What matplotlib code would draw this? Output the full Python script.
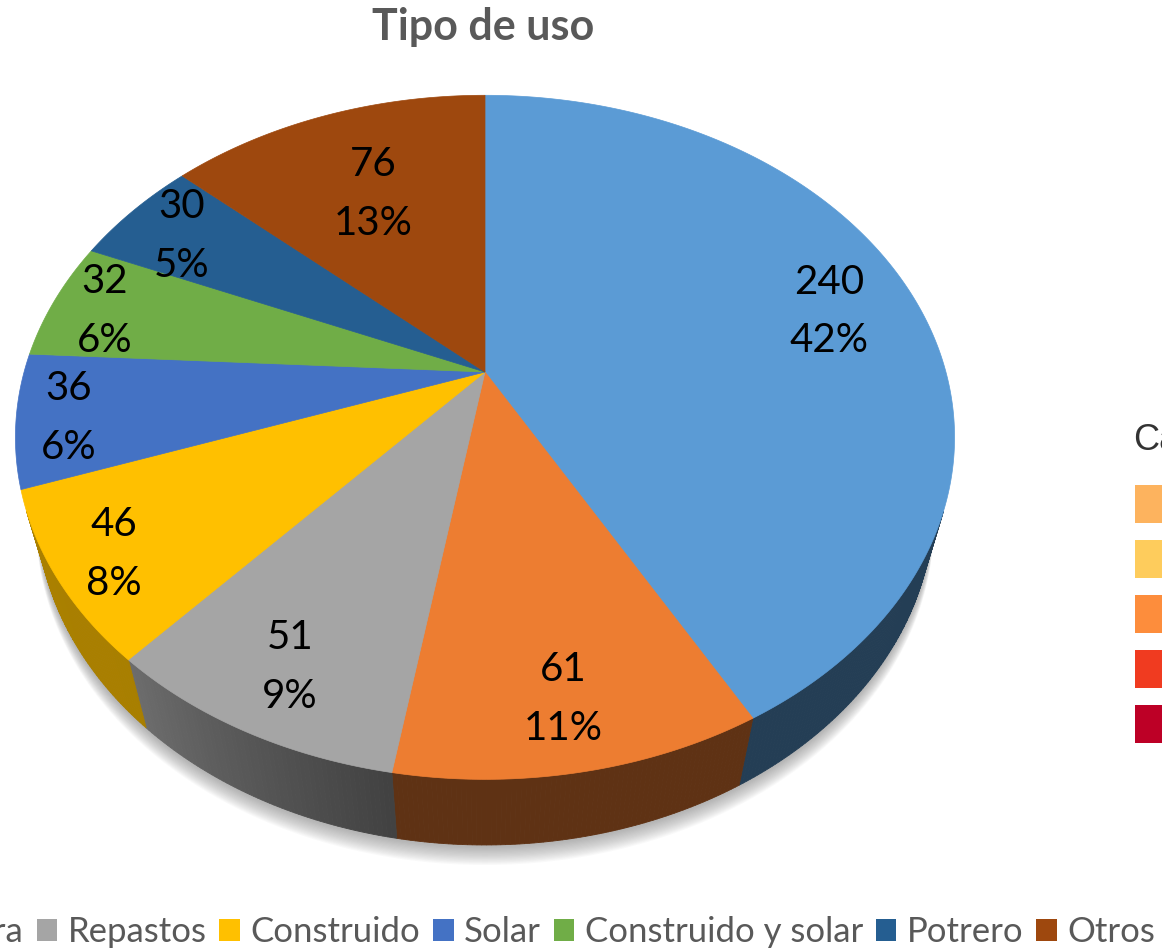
import numpy as np
import matplotlib
matplotlib.use("Agg")
import matplotlib.pyplot as plt
from matplotlib.patches import Polygon, Patch, Rectangle

# Tipo de uso: count per land use, in the order the pie is drawn
categorias = ["Vivienda", "Agricultura", "Repastos", "Construido", "Solar",
              "Construido y solar", "Potrero", "Otros"]
cantidades = [240, 61, 51, 46, 36, 32, 30, 76]
colores = ["#5B9BD5", "#ED7D31", "#A5A5A5", "#FFC000", "#4472C4",
           "#70AD47", "#255E91", "#9E480E"]

# neighbouring chart's legend, only its left edge fits on the page
leyenda2_titulo = "Categoría"
leyenda2_colores = ["#FDB35E", "#FECC5C", "#FD8D3C", "#F03B20", "#BD0026"]

# how far out (fraction of radius) each data label sits
radio_etiqueta = [0.80, 0.84, 0.84, 0.88, 0.89, 0.88, 0.85, 0.67]

FUENTE = ["Lato", "DejaVu Sans"]
GRIS_TEXTO = "#595959"

# camera for the tilted pie (pixel space)
S, C = 0.715, 0.699      # sin/cos of the tilt
D = 3.66                 # camera distance in radii
F = 1687                 # focal length in px
H = 0.231                # pie thickness in radii
CX, CY = 485, 372        # screen position of the pie centre


def proyectar(x, y, z):
    yy = y * S + z * C
    prof = D + y * C - z * S
    return CX + F * x / prof, CY - F * yy / prof


def punto(phi, r=1.0, z=0.0):
    t = np.radians(phi)
    return proyectar(r * np.sin(t), r * np.cos(t), z)


def oscurecer(color, f):
    rgb = np.array(matplotlib.colors.to_rgb(color))
    return tuple(rgb * f)


def sombra_lateral(phi):
    return np.interp(phi, [0, 190, 222, 360], [0.40, 0.40, 0.66, 0.70])


fig = plt.figure(figsize=(11.62, 9.51), dpi=100)
ax = fig.add_axes([0, 0, 1, 1])
ax.set_xlim(0, 1162)
ax.set_ylim(951, 0)
ax.axis("off")

total = sum(cantidades)
bordes = np.concatenate([[0], np.cumsum(cantidades)]) / total * 360

# soft drop shadow under the pie
aro = np.linspace(0, 360, 361)
base = np.array([punto(p, 1.0, -H) for p in aro])
for k in range(16):
    desp = 2 + k * 1.2
    ax.add_patch(Polygon(base + [0, desp], closed=True, facecolor="#6f6f6f",
                         edgecolor="none", alpha=0.04, zorder=1))

# outer wall, only the part that faces the camera
phi_min = np.degrees(np.arccos(-1 / (D * C)))
phi_max = 360 - phi_min
for a, b, col in zip(bordes[:-1], bordes[1:], colores):
    lo, hi = max(a, phi_min), min(b, phi_max)
    if hi <= lo:
        continue
    ps = np.linspace(lo, hi, max(2, int((hi - lo) / 0.5) + 1))
    for p1, p2 in zip(ps[:-1], ps[1:]):
        quad = [punto(p1), punto(p2), punto(p2, 1.0, -H), punto(p1, 1.0, -H)]
        c = oscurecer(col, sombra_lateral((p1 + p2) / 2))
        ax.add_patch(Polygon(quad, closed=True, facecolor=c, edgecolor=c,
                             linewidth=0.6, zorder=2))

# top faces
for a, b, col in zip(bordes[:-1], bordes[1:], colores):
    ps = np.linspace(a, b, max(2, int((b - a) / 0.5) + 1))
    pts = [proyectar(0, 0, 0)] + [punto(p) for p in ps]
    ax.add_patch(Polygon(pts, closed=True, facecolor=col, edgecolor=col,
                         linewidth=0.5, zorder=3))

# data labels: value and share
for a, b, v, r in zip(bordes[:-1], bordes[1:], cantidades, radio_etiqueta):
    x, y = punto((a + b) / 2, r)
    ax.text(x, y + 3, f"{v}\n{v / total * 100:.0f}%", ha="center",
            va="center", fontsize=29, family=FUENTE, color="black",
            linespacing=1.72, zorder=5)

ax.text(483, 27, "Tipo de uso", ha="center", va="center", fontsize=31,
        fontweight="bold", family=FUENTE, color=GRIS_TEXTO)

manejadores = [Patch(facecolor=c, edgecolor="none") for c in colores]
fig.legend(manejadores, categorias, ncol=len(categorias), loc="center right",
           bbox_to_anchor=(1155 / 1162, 1 - 932 / 951), frameon=False,
           prop={"family": FUENTE, "size": 25}, labelcolor=GRIS_TEXTO,
           handlelength=0.6, handleheight=0.6, handletextpad=0.3,
           columnspacing=0.36, borderpad=0, borderaxespad=0)

# the other chart's legend, cut off at the right border
ax.text(1133, 441, leyenda2_titulo, ha="left", va="center", fontsize=26,
        family=["Liberation Sans", "DejaVu Sans"], color="#333333")
for i, col in enumerate(leyenda2_colores):
    ax.add_patch(Rectangle((1135, 485 + i * 55), 38, 38, facecolor=col,
                           edgecolor="none", zorder=3))

fig.savefig("out.png", dpi=100)
